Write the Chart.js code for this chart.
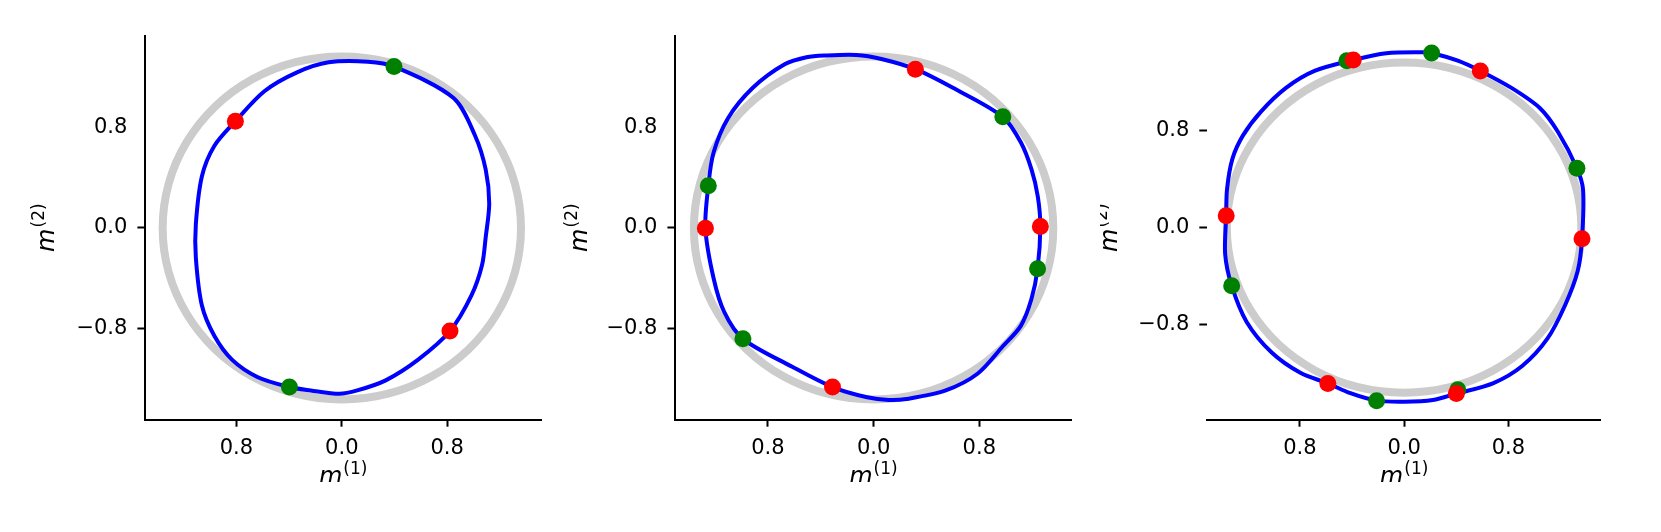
<!DOCTYPE html>
<html>
<head>
<meta charset="utf-8">
<script src="https://cdn.jsdelivr.net/npm/chart.js@4/dist/chart.umd.min.js"></script>
<style>
  html, body { margin: 0; padding: 0; background: #fff; }
  body { width: 1661px; height: 532px; position: relative; overflow: hidden; }
  .painel { position: absolute; top: 0; height: 482px; overflow: hidden; }
  .painel canvas { display: block; }
</style>
</head>
<body>
<div class="painel" style="left:0px;width:560px"><canvas id="g1" width="560" height="532"></canvas></div>
<div class="painel" style="left:560px;width:540px"><canvas id="g2" width="540" height="532"></canvas></div>
<div class="painel" style="left:1100px;width:561px"><canvas id="g3" width="561" height="532"></canvas></div>
<script>
// ================= DADOS =================
const tickValues = [-0.8, 0, 0.8];
const xTickLabels = ['0.8', '0.0', '0.8'];
const yTickLabels = ['\u22120.8', '0.0', '0.8'];
const xTitleSup = '(1)';
const yTitleSup = '(2)';
const titleBase = 'm';

// circulo de referencia (cinza)
const circX = [1.360, 1.314, 1.178, 0.962, 0.680, 0.352, 0.000, -0.352, -0.680, -0.962, -1.178, -1.314,
               -1.360, -1.314, -1.178, -0.962, -0.680, -0.352, 0.000, 0.352, 0.680, 0.962, 1.178, 1.314, 1.360];
const circY = [0.000, 0.352, 0.680, 0.962, 1.178, 1.314, 1.360, 1.314, 1.178, 0.962, 0.680, 0.352,
               0.000, -0.352, -0.680, -0.962, -1.178, -1.314, -1.360, -1.314, -1.178, -0.962, -0.680, -0.352, 0.000];

// painel 1
const loop1X = [-0.100, 0.198, 0.396, 0.848, 1.011, 1.092, 1.119, 1.092, 1.065, 0.984, 0.821, 0.577, 0.333, 0.117, -0.019,
                -0.236, -0.398, -0.642, -0.832, -0.967, -1.062, -1.108, -1.108, -1.062, -0.967, -0.808, -0.588, -0.344, -0.100];
const loop1Y = [1.313, 1.318, 1.280, 1.030, 0.733, 0.464, 0.194, -0.075, -0.291, -0.534, -0.817, -1.046, -1.208, -1.288, -1.315,
                -1.288, -1.261, -1.181, -1.046, -0.857, -0.615, -0.237, 0.032, 0.410, 0.652, 0.846, 1.084, 1.232, 1.313];
const red1X = [-0.808, 0.821];
const red1Y = [0.846, -0.817];
const green1X = [0.396, -0.398];
const green1Y = [1.280, -1.261];

// painel 2
const loop2X = [-0.373, -0.130, 0.059, 0.316, 0.600, 0.978, 1.114, 1.195, 1.243, 1.262, 1.241, 1.195, 1.114, 0.978, 0.789, 0.546,
                0.249, 0.114, -0.049, -0.311, -0.616, -0.989, -1.130, -1.211, -1.273, -1.251, -1.211, -1.103, -0.914, -0.670, -0.508, -0.373];
const loop2Y = [1.367, 1.372, 1.340, 1.259, 1.111, 0.881, 0.679, 0.464, 0.248, 0.011, -0.323, -0.561, -0.776, -0.938, -1.154, -1.288,
                -1.356, -1.364, -1.342, -1.261, -1.100, -0.879, -0.668, -0.399, -0.003, 0.334, 0.598, 0.868, 1.111, 1.299, 1.353, 1.367];
const red2X = [0.316, 1.262, -0.311, -1.273];
const red2Y = [1.259, 0.011, -1.261, -0.003];
const green2X = [0.978, 1.241, -0.989, -1.251];
const green2Y = [0.881, -0.323, -0.879, 0.334];

// painel 3
const loop3X = [-0.390, -0.137, 0.137, 0.211, 0.412, 0.585, 0.824, 1.043, 1.181, 1.326, 1.373, 1.365, 1.332, 1.236, 1.098, 0.906, 0.686, 0.401,
                0.220, 0.000, -0.211, -0.412, -0.585, -0.796, -1.016, -1.208, -1.323, -1.373, -1.365, -1.359, -1.318, -1.236, -1.098, -0.906, -0.687, -0.390];
const loop3Y = [1.381, 1.437, 1.445, 1.439, 1.375, 1.291, 1.151, 0.984, 0.788, 0.489, 0.313, -0.092, -0.358, -0.637, -0.917, -1.140, -1.280, -1.367,
                -1.420, -1.434, -1.425, -1.364, -1.283, -1.196, -1.029, -0.777, -0.478, -0.218, 0.098, 0.313, 0.565, 0.760, 0.956, 1.151, 1.291, 1.381];
const red3X = [-0.390, 0.585, 1.365, 0.401, -0.585, -1.365];
const red3Y = [1.381, 1.291, -0.092, -1.367, -1.283, 0.098];
const green3X = [-0.439, 0.211, 1.326, 0.412, -0.211, -1.323];
const green3Y = [1.375, 1.439, 0.489, -1.336, -1.425, -0.478];

// ================= AUXILIARES =================
const FONTE = '"DejaVu Sans", sans-serif';
const INVISIVEL = 'rgba(0,0,0,0)';

function pontos(xs, ys) {
  return xs.map((x, i) => ({ x: x, y: ys[i] }));
}

// curva fechada: repete um ponto em cada ponta para a curva fechar suave,
// e os dois trechos extras ficam invisiveis
function curvaFechada(xs, ys, cor, largura, tensao) {
  const pts = pontos(xs, ys);
  const n = pts.length;
  const dados = [pts[n - 2]].concat(pts, [pts[1]]);
  const ultimo = dados.length - 1;
  return {
    data: dados, showLine: true, borderColor: cor, borderWidth: largura,
    pointRadius: 0, pointHoverRadius: 0, tension: tensao,
    segment: {
      borderColor: c => (c.p0DataIndex === 0 || c.p1DataIndex === ultimo) ? INVISIVEL : cor
    }
  };
}

// desenha "m" italico com o indice sobrescrito
function desenhaRotulo(ctx, sup, cx, by) {
  ctx.font = 'italic 24px ' + FONTE;
  const wm = ctx.measureText(titleBase).width;
  ctx.font = '17px ' + FONTE;
  const ws = ctx.measureText(sup).width;
  const x0 = cx - (wm + ws + 1) / 2;
  ctx.textAlign = 'left';
  ctx.textBaseline = 'alphabetic';
  ctx.font = 'italic 24px ' + FONTE;
  ctx.fillText(titleBase, x0, by);
  ctx.font = '17px ' + FONTE;
  ctx.fillText(sup, x0 + wm + 1, by - 10);
}

const rotulos = {
  id: 'rotulos',
  afterDraw(chart, args, opts) {
    const ctx = chart.ctx;
    const a = chart.chartArea;
    ctx.save();
    ctx.fillStyle = '#000';
    desenhaRotulo(ctx, xTitleSup, (a.left + a.right) / 2, opts.baseX);
    ctx.translate(opts.baseY, (a.top + a.bottom) / 2);
    ctx.rotate(-Math.PI / 2);
    desenhaRotulo(ctx, yTitleSup, 0, 0);
    ctx.restore();
  }
};

function criaGrafico(id, cfg) {
  const ticksComuns = { font: { family: FONTE, size: 21 }, color: '#000', autoSkip: false, maxRotation: 0 };
  new Chart(document.getElementById(id), {
    type: 'scatter',
    data: {
      datasets: [
        { data: pontos(cfg.redX, cfg.redY), showLine: false, pointRadius: 8.5, pointHoverRadius: 8.5,
          pointBackgroundColor: '#ff0000', pointBorderWidth: 0 },
        { data: pontos(cfg.greenX, cfg.greenY), showLine: false, pointRadius: 8.5, pointHoverRadius: 8.5,
          pointBackgroundColor: '#008000', pointBorderWidth: 0 },
        curvaFechada(cfg.loopX, cfg.loopY, '#0000ff', 4, 0.3),
        curvaFechada(circX, circY, '#cccccc', 8, 0.36)
      ]
    },
    options: {
      responsive: false,
      animation: false,
      devicePixelRatio: 1,
      layout: { padding: { top: 35.6, right: cfg.padRight, left: 0, bottom: 0 } },
      plugins: { legend: { display: false }, tooltip: { enabled: false }, rotulos: { baseX: 484, baseY: cfg.yTitleX } },
      scales: {
        x: {
          type: 'linear', position: 'bottom', min: cfg.xMin, max: cfg.xMax,
          afterBuildTicks: s => { s.ticks = tickValues.map(v => ({ value: v })); },
          afterFit: s => { s.height = 112.3; },
          ticks: Object.assign({ padding: 9, callback: (v, i) => xTickLabels[i] }, ticksComuns),
          grid: { drawOnChartArea: false, drawTicks: true, tickLength: 7, tickWidth: 2, tickColor: '#000' },
          border: { display: true, color: '#000', width: 2 }
        },
        y: {
          type: 'linear', position: 'left', min: cfg.yMin, max: cfg.yMax,
          afterBuildTicks: s => { s.ticks = tickValues.map(v => ({ value: v })); },
          afterFit: s => { s.width = cfg.areaLeft; },
          ticks: Object.assign({ padding: 10, callback: (v, i) => yTickLabels[i] }, ticksComuns),
          grid: {
            drawOnChartArea: false, drawTicks: true, tickLength: 8, tickWidth: 2,
            tickColor: c => (cfg.hideTopTick && c.tick && c.tick.value === 0.8) ? INVISIVEL : '#000'
          },
          border: { display: cfg.ySpine, color: '#000', width: 2 }
        }
      }
    },
    plugins: [rotulos]
  });
}

// ================= GRAFICOS =================
criaGrafico('g1', {
  loopX: loop1X, loopY: loop1Y, redX: red1X, redY: red1Y, greenX: green1X, greenY: green1Y,
  xMin: -1.491, xMax: 1.512, yMin: -1.52, yMax: 1.525,
  areaLeft: 145.4, padRight: 19, yTitleX: 53.5, ySpine: true, hideTopTick: true
});

criaGrafico('g2', {
  loopX: loop2X, loopY: loop2Y, redX: red2X, redY: red2Y, greenX: green2X, greenY: green2Y,
  xMin: -1.500, xMax: 1.497, yMin: -1.52, yMax: 1.525,
  areaLeft: 115.4, padRight: 28.6, yTitleX: 27, ySpine: true, hideTopTick: true
});

criaGrafico('g3', {
  loopX: loop3X, loopY: loop3Y, redX: red3X, redY: red3Y, greenX: green3X, greenY: green3Y,
  xMin: -1.51, xMax: 1.51, yMin: -1.582, yMax: 1.582,
  areaLeft: 107.3, padRight: 60.1, yTitleX: 17, ySpine: false, hideTopTick: false
});
</script>
</body>
</html>
